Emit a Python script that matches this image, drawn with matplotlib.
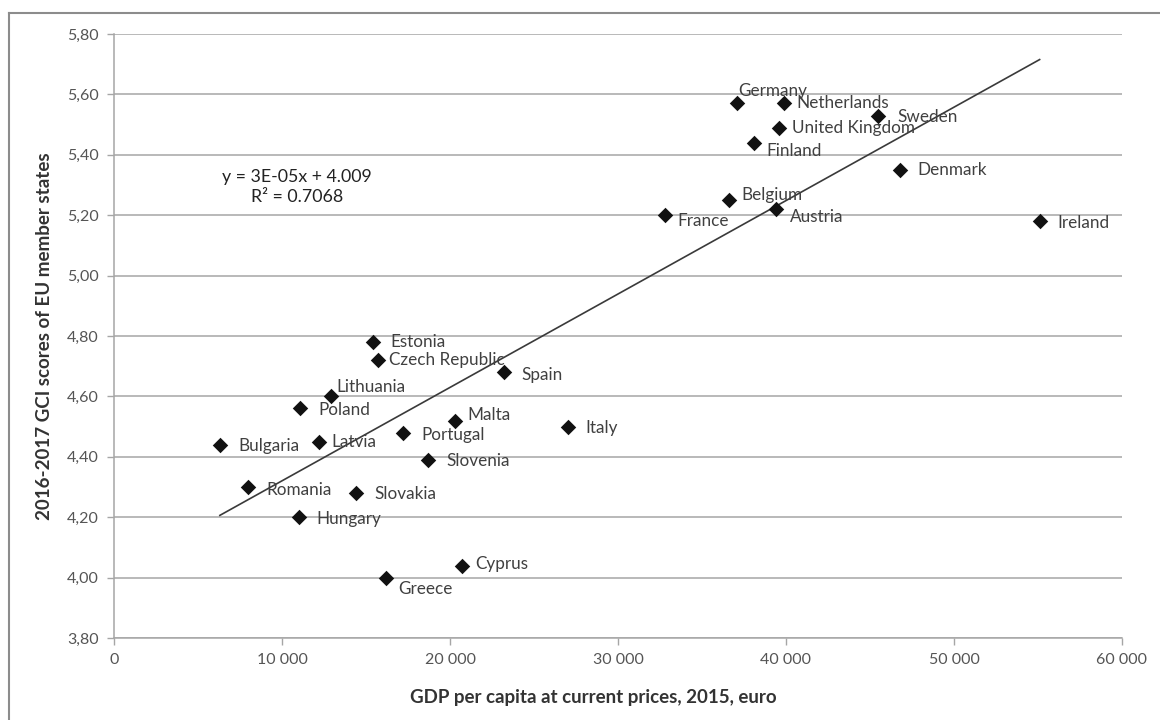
import numpy as np
import matplotlib
matplotlib.use("Agg")
import matplotlib.pyplot as plt
from matplotlib.ticker import FuncFormatter, MultipleLocator
from matplotlib.lines import Line2D

plt.rcParams['font.family'] = ['Lato', 'DejaVu Sans']

countries = ["Germany", "Netherlands", "Sweden", "United Kingdom", "Finland",
             "Denmark", "Belgium", "Austria", "France", "Ireland",
             "Estonia", "Czech Republic", "Spain", "Lithuania", "Poland",
             "Malta", "Italy", "Portugal", "Latvia", "Bulgaria",
             "Slovenia", "Romania", "Slovakia", "Hungary", "Cyprus", "Greece"]
gdp = [37100, 39900, 45500, 39600, 38100,
       46800, 36600, 39400, 32800, 55100,
       15400, 15700, 23200, 12900, 11100,
       20300, 27000, 17200, 12200, 6300,
       18700, 8000, 14400, 11000, 20700, 16200]
gci = [5.57, 5.57, 5.53, 5.49, 5.44,
       5.35, 5.25, 5.22, 5.20, 5.18,
       4.78, 4.72, 4.68, 4.60, 4.56,
       4.52, 4.50, 4.48, 4.45, 4.44,
       4.39, 4.30, 4.28, 4.20, 4.04, 4.00]

# label offsets in points (dx, dy)
label_pos = {
    "Germany": (1, 9), "Netherlands": (9, 0),
    "Sweden": (14, -1), "United Kingdom": (9, 0),
    "Finland": (9, -6), "Denmark": (12, 0),
    "Belgium": (9, 4), "Austria": (10, -6),
    "France": (9, -4), "Ireland": (13, -1),
    "Estonia": (13, 0), "Czech Republic": (8, 0),
    "Spain": (13, -2), "Lithuania": (4, 7),
    "Poland": (13, -1), "Malta": (9, 4),
    "Italy": (13, -1), "Portugal": (13, -2),
    "Latvia": (9, 0), "Bulgaria": (13, -1),
    "Slovenia": (13, -1), "Romania": (13, -2),
    "Slovakia": (13, -1), "Hungary": (13, -1),
    "Cyprus": (10, 1), "Greece": (9, -8),
}

fig = plt.figure(figsize=(11.6, 7.2), dpi=100)
ax = fig.add_axes([0.0983, 0.1139, 0.8689, 0.8389])

grid_c = "#a6a6a6"
text_c = "#404040"

# linear trend
slope, intercept = np.polyfit(gdp, gci, 1)
xs = np.array([min(gdp), max(gdp)])
ax.plot(xs, slope * xs + intercept, color="#3a3a3a", lw=1.2, zorder=2)

ax.scatter(gdp, gci, marker="D", s=62, color="#111111", zorder=3, linewidths=0)

for name, x, y in zip(countries, gdp, gci):
    dx, dy = label_pos[name]
    ax.annotate(name, (x, y), xytext=(dx, dy), textcoords="offset points",
                ha="left", va="center", fontsize=12.3, color=text_c, zorder=4)

ax.text(0.1815, 0.747, "y = 3E-05x + 4.009\nR\u00b2 = 0.7068", transform=ax.transAxes,
        ha="center", va="center", fontsize=12.8, color="#222222", linespacing=1.3)

ax.set_xlim(0, 60000)
ax.set_ylim(3.80, 5.80)
ax.xaxis.set_major_locator(MultipleLocator(10000))
ax.yaxis.set_major_locator(MultipleLocator(0.2))
ax.xaxis.set_major_formatter(FuncFormatter(lambda v, p: f"{int(round(v)):,}".replace(",", " ")))
ax.yaxis.set_major_formatter(FuncFormatter(lambda v, p: f"{v:.2f}".replace(".", ",")))

ax.grid(axis="y", color=grid_c, lw=1.1)
ax.set_axisbelow(True)
for s in ["top", "right"]:
    ax.spines[s].set_visible(False)
for s in ["left", "bottom"]:
    ax.spines[s].set_color(grid_c)
    ax.spines[s].set_linewidth(1.1)
ax.tick_params(axis="both", colors=grid_c, length=5, width=1, labelsize=11.5,
               labelcolor="#555555")
ax.tick_params(axis="x", pad=6)
ax.tick_params(axis="y", pad=6)

ax.set_xlabel("GDP per capita at current prices, 2015, euro", fontsize=13.5,
              fontweight="bold", color="#333333")
ax.xaxis.set_label_coords(0.476, -0.085)
ax.set_ylabel("2016-2017 GCI scores of EU member states", fontsize=13.5,
              fontweight="bold", color="#333333", labelpad=10)

# outer chart frame
fig.add_artist(Line2D([9 / 1160, 1.0], [1 - 13 / 720, 1 - 13 / 720],
                      transform=fig.transFigure, color="#8c8c8c", lw=1.5))
fig.add_artist(Line2D([9 / 1160, 9 / 1160], [0.0, 1 - 13 / 720],
                      transform=fig.transFigure, color="#8c8c8c", lw=1.5))

fig.savefig("out.png", dpi=100, facecolor="white")
